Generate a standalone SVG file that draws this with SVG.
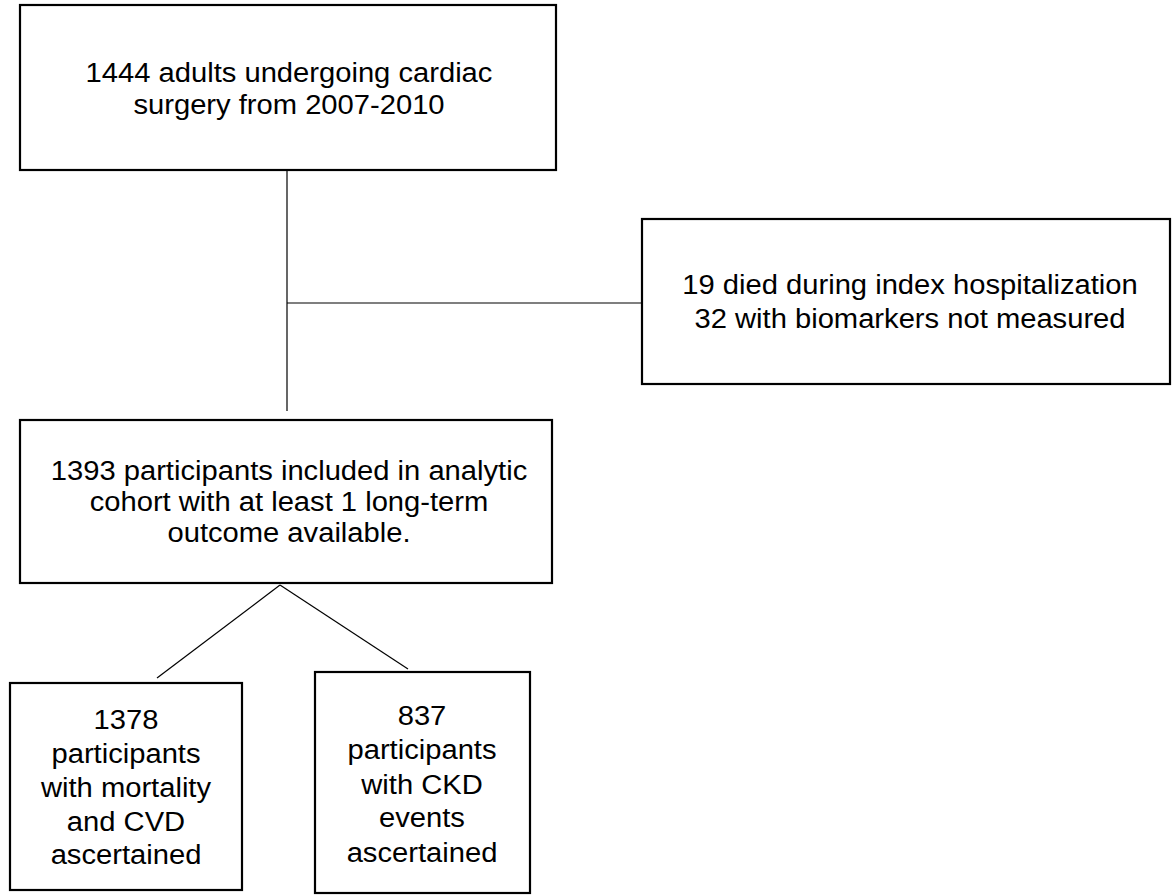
<svg xmlns="http://www.w3.org/2000/svg" width="1172" height="895" viewBox="0 0 1172 895">
<style>
.box{fill:#fff;stroke:#000;stroke-width:2.2}
.t{font-family:"Liberation Sans",Arial,sans-serif;font-size:27px;fill:#000;text-anchor:middle}
.c{stroke:#000;stroke-width:1.2;fill:none}
</style>
<rect width="1172" height="895" fill="#fff"/>
<g id="connectors">
<line class="c" x1="287" y1="170" x2="287" y2="411"/>
<line class="c" x1="287" y1="303" x2="641" y2="303"/>
<line class="c" x1="280" y1="585" x2="157" y2="678"/>
<line class="c" x1="280" y1="585" x2="408" y2="669"/>
</g>
<g id="n1">
<rect class="box" x="20" y="5" width="536" height="165"/>
<g transform="translate(289 0) scale(1.08 1)">
<text class="t" x="0" y="82">1444 adults undergoing cardiac</text>
<text class="t" x="0" y="114">surgery from 2007-2010</text>
</g>
</g>
<g id="n2">
<rect class="box" x="642" y="219" width="528" height="165"/>
<g transform="translate(910 0) scale(1.08 1)">
<text class="t" x="0" y="294">19 died during index hospitalization</text>
<text class="t" x="0" y="328">32 with biomarkers not measured</text>
</g>
</g>
<g id="n3">
<rect class="box" x="20" y="420" width="532" height="163"/>
<g transform="translate(289 0) scale(1.08 1)">
<text class="t" x="0" y="480">1393 participants included in analytic</text>
<text class="t" x="0" y="511">cohort with at least 1 long-term</text>
<text class="t" x="0" y="542">outcome available.</text>
</g>
</g>
<g id="n4">
<rect class="box" x="10" y="683" width="232" height="207"/>
<g transform="translate(126 0) scale(1.08 1)">
<text class="t" x="0" y="729">1378</text>
<text class="t" x="0" y="763">participants</text>
<text class="t" x="0" y="797">with mortality</text>
<text class="t" x="0" y="831">and CVD</text>
<text class="t" x="0" y="864">ascertained</text>
</g>
</g>
<g id="n5">
<rect class="box" x="315" y="672" width="215" height="221"/>
<g transform="translate(422 0) scale(1.08 1)">
<text class="t" x="0" y="725">837</text>
<text class="t" x="0" y="759">participants</text>
<text class="t" x="0" y="794">with CKD</text>
<text class="t" x="0" y="827">events</text>
<text class="t" x="0" y="862">ascertained</text>
</g>
</g>
</svg>
